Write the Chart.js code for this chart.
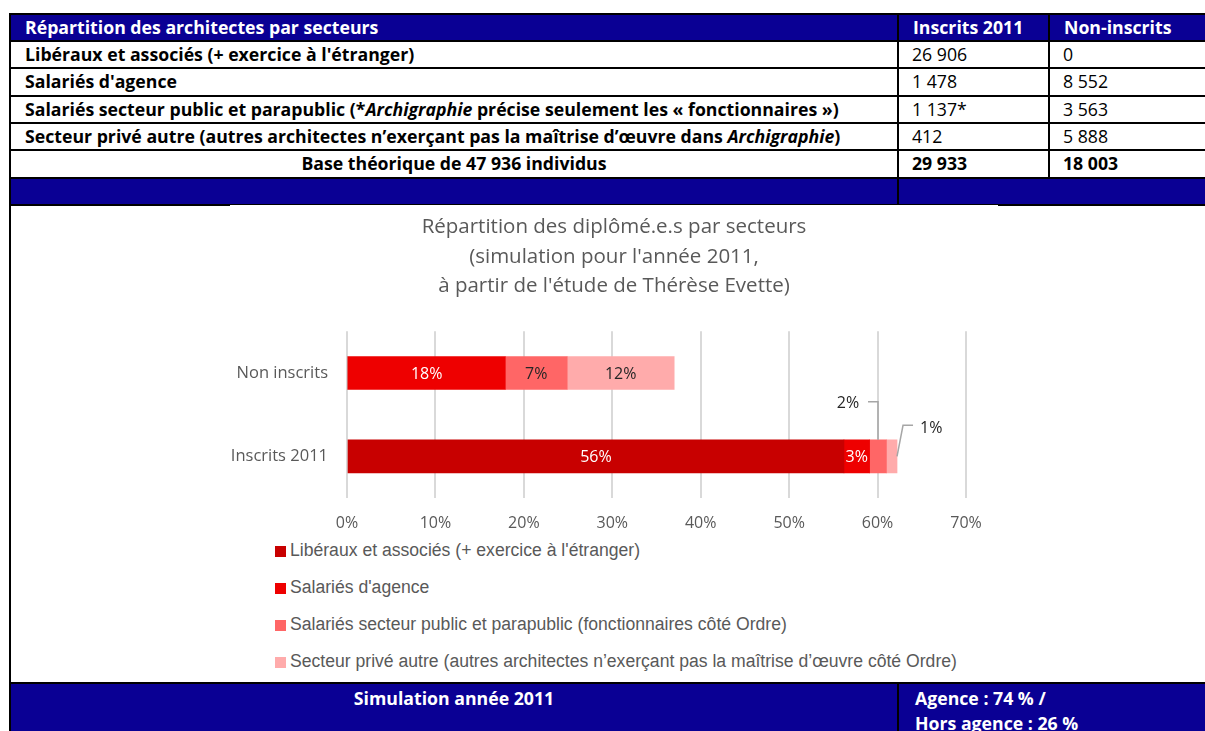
<!DOCTYPE html>
<html lang="fr">
<head>
<meta charset="utf-8">
<title>Répartition des diplômé.e.s par secteurs</title>
<script src="https://cdn.jsdelivr.net/npm/chart.js@4.4.1/dist/chart.umd.min.js"></script>
<style>
html, body { margin: 0; padding: 0; background: #fff; width: 1205px; height: 731px; overflow: hidden; }
body { position: relative; font-family: "Open Sans", "Liberation Sans", Arial, sans-serif; }
.grid { position: absolute; left: 9px; display: grid; gap: 2px; background: #000; padding: 2px 0 2px 2px; }
.tab { top: 13px; grid-template-columns: 886px 149px 220px; grid-template-rows: 25px 25px 26px 25px 25px 26px 25px; }
.tab div { background: #fff; font-size: 17.7px; font-weight: bold; line-height: 25px; padding-left: 14px; white-space: nowrap; overflow: hidden; }
.tab div.num { font-weight: normal; padding-left: 13px; }
.tab div.tot { padding-left: 13px; }
.tab div.h { background: #0a0094; color: #fff; }
.tab div.c { text-align: center; padding-left: 0; }
.foot { top: 682px; grid-template-columns: 886px 320px; grid-template-rows: 60px; padding-bottom: 0; }
.foot div { background: #0a0094; color: #fff; font-size: 17.7px; font-weight: bold; line-height: 25px; padding-top: 2px; }
#cover { position: absolute; left: 230px; top: 205px; width: 768px; height: 477px; background: #fff; }
#vline { position: absolute; left: 9px; top: 204px; width: 2px; height: 480px; background: #000; }
#wrap { position: absolute; left: 230px; top: 206px; width: 768px; height: 330px; }
#legende { position: absolute; left: 275px; top: 539px; font-family: "Liberation Sans", sans-serif; font-size: 17.6px; color: #595959; }
#legende div { height: 37px; line-height: 22px; white-space: nowrap; }
#legende span { display: inline-block; width: 11px; height: 11px; margin-right: 4px; vertical-align: -1px; }
</style>
</head>
<body>

<div class="grid tab">
  <div class="h">Répartition des architectes par secteurs</div>
  <div class="h">Inscrits 2011</div>
  <div class="h">Non-inscrits</div>
  <div>Libéraux et associés (+ exercice à l'étranger)</div>
  <div class="num">26 906</div>
  <div class="num">0</div>
  <div>Salariés d'agence</div>
  <div class="num">1 478</div>
  <div class="num">8 552</div>
  <div>Salariés secteur public et parapublic (*<i>Archigraphie</i> précise seulement les « fonctionnaires »)</div>
  <div class="num">1 137*</div>
  <div class="num">3 563</div>
  <div>Secteur privé autre (autres architectes n’exerçant pas la maîtrise d’œuvre dans <i>Archigraphie</i>)</div>
  <div class="num">412</div>
  <div class="num">5 888</div>
  <div class="c">Base théorique de 47 936 individus</div>
  <div class="tot">29 933</div>
  <div class="tot">18 003</div>
  <div class="h"></div>
  <div class="h" style="grid-column: 2 / 4"></div>
</div>

<div id="cover"></div>
<div id="vline"></div>

<div class="grid foot">
  <div style="text-align:center">Simulation année 2011</div>
  <div style="padding-left:16px">Agence : 74 % /<br>Hors agence : 26 %</div>
</div>

<div id="wrap"><canvas id="chartSecteurs" width="768" height="330"></canvas></div>
<div id="legende"></div>

<script>
// valeurs (en %)
const categories = ['Non inscrits', 'Inscrits 2011'];
const nomsSeries = [
    'Libéraux et associés (+ exercice à l\'étranger)',
    'Salariés d\'agence',
    'Salariés secteur public et parapublic (fonctionnaires côté Ordre)',
    'Secteur privé autre (autres architectes n’exerçant pas la maîtrise d’œuvre côté Ordre)'
];
const liberaux = [0, 56.2];
const salariesAgence = [17.9, 2.9];
const salariesPublic = [7.0, 1.9];
const priveAutre = [12.1, 1.2];
const ticksX = [0, 10, 20, 30, 40, 50, 60, 70];

const couleurs = ['#c80000', '#ee0000', '#ff6666', '#ffabab'];
const couleursTexte = ['#ffffff', '#ffffff', '#262626', '#262626'];

const titre = ['Répartition des diplômé.e.s par secteurs', '(simulation pour l\'année 2011,', 'à partir de l\'étude de Thérèse Evette)'];

const police = '"Open Sans", sans-serif';

// étiquettes des barres (les petites avec un trait de rappel)
const etiquettes = {
    id: 'etiquettes',
    afterDatasetsDraw: function (chart) {
        const ctx = chart.ctx;
        ctx.save();
        ctx.font = '16px ' + police;
        ctx.textBaseline = 'middle';
        chart.data.datasets.forEach(function (ds, i) {
            const meta = chart.getDatasetMeta(i);
            meta.data.forEach(function (bar, j) {
                const v = ds.data[j];
                if (!v) return;
                const txt = Math.round(v) + '%';
                const cx = (bar.x + bar.base) / 2;
                const w = Math.abs(bar.x - bar.base);
                if (w > 24) {
                    ctx.fillStyle = couleursTexte[i];
                    ctx.textAlign = 'center';
                    ctx.fillText(txt, cx, bar.y + 1);
                    return;
                }
                ctx.strokeStyle = '#a6a6a6';
                ctx.lineWidth = 1.5;
                ctx.fillStyle = '#262626';
                const top = bar.y - bar.height / 2;
                ctx.beginPath();
                if (i == 2) {
                    ctx.moveTo(cx, top);
                    ctx.lineTo(cx, top - 38);
                    ctx.lineTo(cx - 10, top - 38);
                    ctx.stroke();
                    ctx.textAlign = 'center';
                    ctx.fillText(txt, cx - 30, top - 36);
                } else {
                    ctx.moveTo(bar.x, bar.y);
                    ctx.lineTo(bar.x + 6, bar.y - 31);
                    ctx.lineTo(bar.x + 16, bar.y - 31);
                    ctx.stroke();
                    ctx.textAlign = 'left';
                    ctx.fillText(txt, bar.x + 23, bar.y - 28);
                }
            });
        });
        ctx.restore();
    }
};

const series = [liberaux, salariesAgence, salariesPublic, priveAutre];
const datasets = series.map(function (d, i) {
    return {
        label: nomsSeries[i],
        data: d,
        backgroundColor: couleurs[i],
        borderWidth: 0,
        barThickness: 33
    };
});

const chartSecteurs = new Chart(document.getElementById('chartSecteurs'), {
    type: 'bar',
    data: { labels: categories, datasets: datasets },
    options: {
        indexAxis: 'y',
        responsive: false,
        animation: false,
        devicePixelRatio: 1,
        plugins: {
            legend: { display: false },
            tooltip: { enabled: false },
            title: {
                display: true,
                text: titre,
                color: '#595959',
                font: { family: police, size: 20.5, weight: 'normal', lineHeight: 1.42 },
                padding: { top: 7, bottom: 31 }
            }
        },
        scales: {
            x: {
                stacked: true,
                min: 0,
                max: 70,
                afterBuildTicks: function (scale) {
                    scale.ticks = ticksX.map(function (v) { return { value: v }; });
                },
                afterFit: function (scale) {
                    scale.height = 38;
                    scale.paddingRight = 32;
                },
                ticks: {
                    color: '#595959',
                    font: { family: police, size: 16 },
                    padding: 16,
                    callback: function (v) { return v + '%'; }
                },
                grid: { color: '#d9d9d9', lineWidth: 2, drawTicks: false },
                border: { display: false }
            },
            y: {
                stacked: true,
                afterFit: function (scale) { scale.width = 117; },
                ticks: {
                    color: '#595959',
                    font: { family: police, size: 16.5 },
                    padding: 19
                },
                grid: { display: false, drawTicks: false },
                border: { display: false }
            }
        }
    },
    plugins: [etiquettes]
});

// légende verticale
const legende = document.getElementById('legende');
chartSecteurs.data.datasets.forEach(function (ds) {
    const item = document.createElement('div');
    item.innerHTML = '<span style="background:' + ds.backgroundColor + '"></span>' + ds.label;
    legende.appendChild(item);
});
</script>
</body>
</html>
